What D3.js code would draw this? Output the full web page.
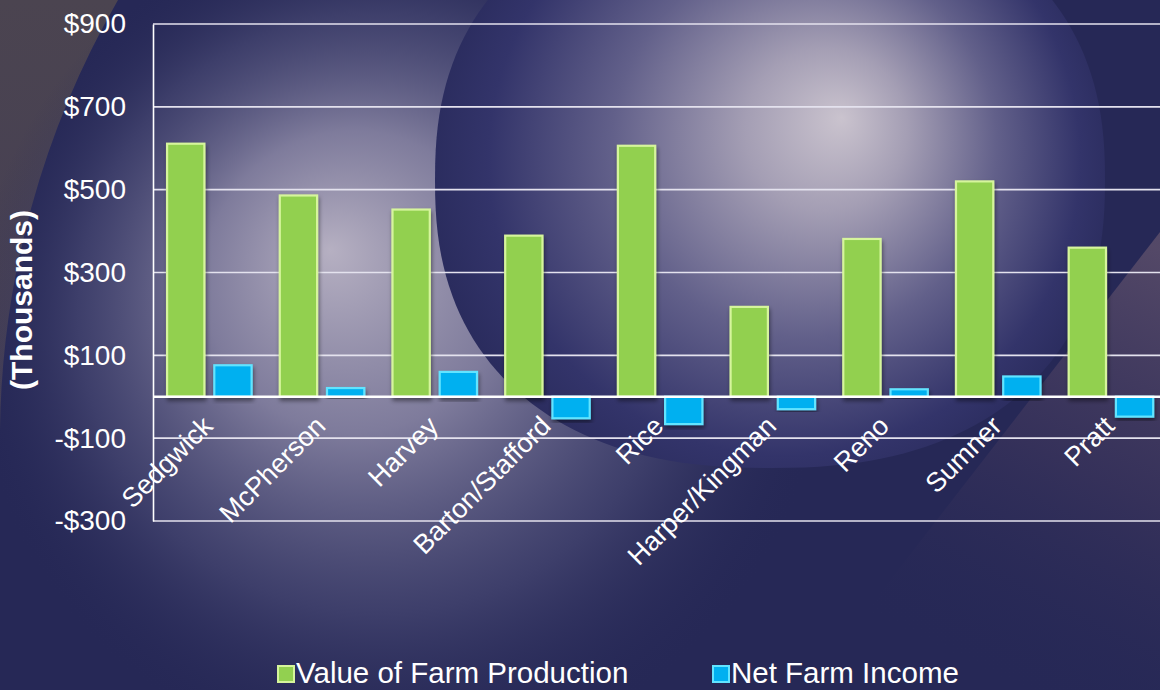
<!DOCTYPE html>
<html>
<head>
<meta charset="utf-8">
<script src="https://cdn.jsdelivr.net/npm/d3@7/dist/d3.min.js"></script>
<style>
  html, body { margin: 0; padding: 0; background: #262856; }
  svg { display: block; }
  text { font-family: "Liberation Sans", Arial, sans-serif; fill: #ffffff; }
</style>
</head>
<body>
<svg id="chart" width="1160" height="690"></svg>
<script>
// ---- data ----
const categories = ["Sedgwick", "McPherson", "Harvey", "Barton/Stafford", "Rice",
                    "Harper/Kingman", "Reno", "Sumner", "Pratt"];
const seriesNames = ["Value of Farm Production", "Net Farm Income"];
const valueOfFarmProduction = [611, 486, 452, 389, 606, 217, 381, 520, 360];
const netFarmIncome = [76, 21, 60, -52, -66, -30, 18, 49, -48];
const yTicks = [-300, -100, 100, 300, 500, 700, 900];
const seriesColors = ["#92d050", "#00b0f0"];
const seriesBorders = ["#d6f59c", "#62e4ff"];

(function () {
const rows = categories.map((c, i) => ({
  cat: c,
  vals: [
    { key: seriesNames[0], v: valueOfFarmProduction[i], s: 0 },
    { key: seriesNames[1], v: netFarmIncome[i], s: 1 }
  ]
}));

const W = 1160, H = 690;
const svg = d3.select("#chart");
const defs = svg.append("defs");

// ---- background gradients ----
const lg = defs.append("linearGradient").attr("id", "greyFade")
  .attr("gradientUnits", "userSpaceOnUse").attr("x1", 0).attr("y1", 0).attr("x2", 0).attr("y2", 620);
lg.append("stop").attr("offset", 0).attr("stop-color", "#4b4450");
lg.append("stop").attr("offset", 0.7).attr("stop-color", "#443e56");
lg.append("stop").attr("offset", 1).attr("stop-color", "#262856");

const g2 = defs.append("radialGradient").attr("id", "glow2")
  .attr("gradientUnits", "userSpaceOnUse").attr("cx", 400).attr("cy", 340).attr("r", 430)
  .attr("fx", 330).attr("fy", 250);
g2.append("stop").attr("offset", 0).attr("stop-color", "#b6b0c2").attr("stop-opacity", 1);
g2.append("stop").attr("offset", 0.35).attr("stop-color", "#8e8aa8").attr("stop-opacity", 0.85);
g2.append("stop").attr("offset", 0.7).attr("stop-color", "#55557f").attr("stop-opacity", 0.5);
g2.append("stop").attr("offset", 1).attr("stop-color", "#262856").attr("stop-opacity", 0);

const g3 = defs.append("linearGradient").attr("id", "glowRight")
  .attr("gradientUnits", "userSpaceOnUse").attr("x1", 1160).attr("y1", 250).attr("x2", 950).attr("y2", 660);
g3.append("stop").attr("offset", 0).attr("stop-color", "#564a68").attr("stop-opacity", 0.95);
g3.append("stop").attr("offset", 0.5).attr("stop-color", "#3c355c").attr("stop-opacity", 0.7);
g3.append("stop").attr("offset", 1).attr("stop-color", "#262856").attr("stop-opacity", 0);

const g1 = defs.append("radialGradient").attr("id", "darkCircle")
  .attr("gradientUnits", "userSpaceOnUse").attr("cx", 770).attr("cy", 170).attr("r", 370)
  .attr("fx", 842).attr("fy", 118);
g1.append("stop").attr("offset", 0).attr("stop-color", "#cac3ce");
g1.append("stop").attr("offset", 0.22).attr("stop-color", "#a49eb4");
g1.append("stop").attr("offset", 0.52).attr("stop-color", "#62608a");
g1.append("stop").attr("offset", 0.8).attr("stop-color", "#33346a");
g1.append("stop").attr("offset", 1).attr("stop-color", "#262858");

const bg = svg.append("g").attr("class", "background");
bg.append("rect").attr("width", W).attr("height", H).attr("fill", "#262856");
// top-left grey region outside a large arc
bg.append("path")
  .attr("d", "M0,0 L118,0 A881,881 0 0,0 0,430 L0,690 L-1,690 L-1,0 Z")
  .attr("fill", "url(#greyFade)");
// light glow left/centre
bg.append("ellipse").attr("cx", 400).attr("cy", 340).attr("rx", 430).attr("ry", 430)
  .attr("fill", "url(#glow2)");
// right lighter diagonal region
bg.append("path").attr("d", "M1160,232 L805,690 L1160,690 Z").attr("fill", "url(#glowRight)");
// dark rounded shape with inner light (superellipse)
const cx = 770, cy = 180, rx = 335, ry = 288, n = 2.35;
const pts = d3.range(0, 361, 2).map(a => {
  const t = a * Math.PI / 180, c = Math.cos(t), s = Math.sin(t);
  return [cx + rx * Math.sign(c) * Math.pow(Math.abs(c), 2 / n),
          cy + ry * Math.sign(s) * Math.pow(Math.abs(s), 2 / n)];
});
bg.append("path").attr("d", d3.line()(pts) + "Z").attr("fill", "url(#darkCircle)");

// ---- shadow filter ----
const f = defs.append("filter").attr("id", "shadow").attr("x", "-20%").attr("y", "-20%")
  .attr("width", "140%").attr("height", "140%");
f.append("feDropShadow").attr("dx", 1).attr("dy", 3).attr("stdDeviation", 2)
  .attr("flood-color", "#000000").attr("flood-opacity", 0.45);

// ---- scales ----
const plotLeft = 153, plotTop = 24, plotBottom = 521;
const step = 112.7;
const x0 = d3.scaleBand().domain(categories)
  .range([plotLeft, plotLeft + step * categories.length])
  .paddingInner(0.25).paddingOuter(0.125);
const x1 = d3.scaleBand().domain(seriesNames).range([0, x0.bandwidth()]).paddingInner(0.21);
const y = d3.scaleLinear().domain([-300, 900]).range([plotBottom, plotTop]);

const chart = svg.append("g");

// gridlines
chart.append("g").selectAll("line").data(yTicks).join("line")
  .attr("x1", plotLeft).attr("x2", W)
  .attr("y1", d => y(d)).attr("y2", d => y(d))
  .attr("stroke", "#e4e2ee").attr("stroke-width", 1.6);

// y axis
const yAxis = chart.append("g").attr("transform", `translate(${plotLeft},0)`)
  .call(d3.axisLeft(y).tickValues(yTicks).tickSize(0).tickPadding(27)
    .tickFormat(v => (v < 0 ? "-$" : "$") + Math.abs(v)));
yAxis.select(".domain").attr("stroke", "#ffffff").attr("stroke-width", 1.6);
yAxis.selectAll("text").attr("font-size", 28)
  .attr("font-family", "'Liberation Sans', Arial, sans-serif").attr("fill", "#ffffff");

// bars
const groups = chart.append("g").selectAll("g").data(rows).join("g")
  .attr("transform", d => `translate(${x0(d.cat)},0)`);
groups.selectAll("rect").data(d => d.vals).join("rect")
  .attr("x", d => x1(d.key))
  .attr("width", x1.bandwidth())
  .attr("y", d => y(Math.max(0, d.v)))
  .attr("height", d => Math.abs(y(d.v) - y(0)))
  .attr("fill", d => seriesColors[d.s])
  .attr("stroke", d => seriesBorders[d.s])
  .attr("stroke-width", 2.2)
  .attr("filter", "url(#shadow)");

// zero line
chart.append("line").attr("x1", plotLeft).attr("x2", W).attr("y1", y(0)).attr("y2", y(0))
  .attr("stroke", "#ffffff").attr("stroke-width", 2.6);

// category axis labels
const xAxis = chart.append("g").attr("transform", `translate(0,${y(0)})`)
  .call(d3.axisBottom(x0).tickSize(0));
xAxis.select(".domain").remove();
xAxis.selectAll("text")
  .attr("y", 0).attr("dy", 0)
  .attr("text-anchor", "end")
  .attr("font-size", 27)
  .attr("font-family", "'Liberation Sans', Arial, sans-serif")
  .attr("fill", "#ffffff")
  .attr("transform", "translate(5,31) rotate(-45)");

// y title
svg.append("text")
  .attr("transform", "translate(32,300) rotate(-90)")
  .attr("text-anchor", "middle")
  .attr("font-size", 30).attr("font-weight", "bold")
  .text("(Thousands)");

// legend
const legendX = [277, 712];
const leg = svg.append("g").selectAll("g").data(seriesNames).join("g")
  .attr("transform", (d, i) => `translate(${legendX[i]},0)`);
leg.append("rect").attr("x", 1).attr("y", 666).attr("width", 16).attr("height", 16)
  .attr("fill", (d, i) => seriesColors[i]).attr("stroke", (d, i) => seriesBorders[i]).attr("stroke-width", 2);
leg.append("text").attr("x", 19).attr("y", 683).attr("font-size", 29.5).text(d => d);
})();
</script>
</body>
</html>
